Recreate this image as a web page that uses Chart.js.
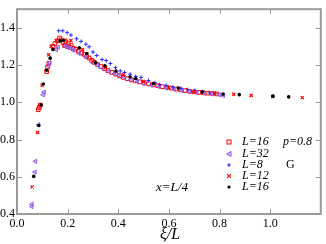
<!DOCTYPE html>
<html>
<head>
<meta charset="utf-8">
<script src="https://cdn.jsdelivr.net/npm/chart.js@4"></script>
<style>
  html, body { margin: 0; padding: 0; background: #fff; }
  #wrap { width: 326px; height: 244px; }
</style>
</head>
<body>
<div id="wrap"><canvas id="scaling" width="326" height="244"></canvas></div>
<script>
// L=16 open squares (red)
const sqX = [0.084, 0.088, 0.092, 0.117, 0.121, 0.126, 0.142, 0.150, 0.160, 0.168, 0.175, 0.182, 0.188, 0.193, 0.198, 0.203, 0.208, 0.214, 0.222, 0.232, 0.242, 0.255, 0.265, 0.275, 0.285, 0.295, 0.305, 0.318, 0.332, 0.346, 0.360, 0.375, 0.390, 0.405, 0.420, 0.436, 0.452, 0.468, 0.485, 0.502, 0.520, 0.538, 0.556, 0.574, 0.592, 0.610, 0.628, 0.646, 0.664, 0.682, 0.700, 0.718, 0.736, 0.754, 0.772, 0.790];
const sqY = [0.960, 0.972, 0.985, 1.165, 1.190, 1.210, 1.300, 1.315, 1.330, 1.345, 1.335, 1.320, 1.305, 1.325, 1.300, 1.315, 1.295, 1.305, 1.290, 1.285, 1.275, 1.265, 1.258, 1.245, 1.238, 1.225, 1.215, 1.203, 1.192, 1.180, 1.170, 1.160, 1.151, 1.142, 1.134, 1.127, 1.120, 1.115, 1.110, 1.104, 1.099, 1.094, 1.089, 1.084, 1.080, 1.076, 1.071, 1.067, 1.063, 1.059, 1.056, 1.053, 1.051, 1.049, 1.047, 1.045];

// L=32 triangles (violet)
const triX = [0.058, 0.059, 0.071, 0.073, 0.085, 0.103, 0.107, 0.125, 0.129, 0.155, 0.162, 0.190, 0.200, 0.213, 0.222, 0.245, 0.270, 0.300, 0.318, 0.340, 0.362, 0.385, 0.402, 0.425, 0.450, 0.475, 0.500, 0.530, 0.560, 0.590, 0.620, 0.650, 0.680, 0.710, 0.740, 0.770, 0.800, 0.815];
const triY = [0.440, 0.452, 0.625, 0.683, 0.880, 1.040, 1.055, 1.195, 1.212, 1.282, 1.296, 1.303, 1.295, 1.290, 1.280, 1.262, 1.245, 1.212, 1.198, 1.182, 1.166, 1.154, 1.146, 1.134, 1.121, 1.111, 1.101, 1.092, 1.084, 1.077, 1.070, 1.064, 1.058, 1.053, 1.048, 1.044, 1.040, 1.036];

// L=8 plus (blue)
const plusX = [0.165, 0.181, 0.198, 0.213, 0.235, 0.253, 0.272, 0.285, 0.300, 0.315, 0.336, 0.352, 0.369, 0.389, 0.408, 0.425, 0.447, 0.469, 0.490, 0.519, 0.545, 0.564, 0.589, 0.616, 0.647, 0.674, 0.702, 0.733, 0.760, 0.784];
const plusY = [1.384, 1.384, 1.374, 1.361, 1.341, 1.327, 1.312, 1.298, 1.270, 1.251, 1.229, 1.224, 1.208, 1.186, 1.168, 1.160, 1.151, 1.139, 1.134, 1.117, 1.105, 1.095, 1.091, 1.081, 1.075, 1.068, 1.063, 1.057, 1.050, 1.047];

// L=12 crosses (red)
const crossX = [0.060, 0.081, 0.099, 0.125, 0.135, 0.155, 0.190, 0.213, 0.259, 0.300, 0.350, 0.420, 0.500, 0.600, 0.700, 0.780, 0.856, 0.925, 1.010, 1.127];
const crossY = [0.545, 0.838, 1.091, 1.255, 1.301, 1.332, 1.335, 1.332, 1.284, 1.222, 1.188, 1.148, 1.112, 1.080, 1.058, 1.048, 1.043, 1.037, 1.031, 1.025];

// L=16 filled circles (black)
const dotX = [0.066, 0.086, 0.095, 0.104, 0.117, 0.131, 0.142, 0.170, 0.183, 0.246, 0.276, 0.311, 0.347, 0.391, 0.447, 0.469, 0.539, 0.637, 0.732, 0.814, 0.878, 1.011, 1.073];
const dotY = [0.602, 0.875, 0.986, 1.098, 1.172, 1.237, 1.284, 1.330, 1.332, 1.293, 1.262, 1.212, 1.196, 1.168, 1.137, 1.128, 1.101, 1.077, 1.056, 1.044, 1.041, 1.033, 1.029];

const xTicks = [0, 0.2, 0.4, 0.6, 0.8, 1.0];
const yTicks = [0.4, 0.6, 0.8, 1.0, 1.2, 1.4];

const legendRows = [
  { label: 'L=16', kind: 'square' },
  { label: 'L=32', kind: 'triangle' },
  { label: 'L=8', kind: 'plus' },
  { label: 'L=12', kind: 'cross' },
  { label: 'L=16', kind: 'dot' }
];

const SERIF = '"Liberation Serif", "DejaVu Serif", serif';
const RED = '#ff0000';
const VIOLET = '#9359e0';
const BLUE = '#2b2bff';

function pts(xs, ys) {
  return xs.map((x, i) => ({ x: x, y: ys[i] }));
}

// draw one legend symbol by hand
function drawSymbol(ctx, kind, x, y) {
  ctx.save();
  ctx.lineWidth = 1;
  if (kind === 'square') {
    ctx.strokeStyle = RED;
    ctx.strokeRect(x - 2, y - 2, 4, 4);
  } else if (kind === 'triangle') {
    ctx.strokeStyle = VIOLET;
    ctx.fillStyle = 'rgba(160,120,235,0.45)';
    ctx.beginPath();
    ctx.moveTo(x - 2.5, y);
    ctx.lineTo(x + 2, y - 2.5);
    ctx.lineTo(x + 2, y + 2.5);
    ctx.closePath();
    ctx.fill();
    ctx.stroke();
  } else if (kind === 'plus') {
    ctx.strokeStyle = BLUE;
    ctx.beginPath();
    ctx.moveTo(x - 2, y); ctx.lineTo(x + 2, y);
    ctx.moveTo(x, y - 2); ctx.lineTo(x, y + 2);
    ctx.stroke();
  } else if (kind === 'cross') {
    ctx.strokeStyle = RED;
    ctx.lineWidth = 1.2;
    ctx.beginPath();
    ctx.moveTo(x - 1.8, y - 1.8); ctx.lineTo(x + 1.8, y + 1.8);
    ctx.moveTo(x + 1.8, y - 1.8); ctx.lineTo(x - 1.8, y + 1.8);
    ctx.stroke();
  } else {
    ctx.fillStyle = '#000';
    ctx.beginPath();
    ctx.arc(x, y, 1.6, 0, Math.PI * 2);
    ctx.fill();
  }
  ctx.restore();
}

// frame, inward ticks on all four sides, legend and annotations
const framePlugin = {
  id: 'frame',
  afterDraw(chart) {
    const ctx = chart.ctx;
    const a = chart.chartArea;
    const sx = chart.scales.x, sy = chart.scales.y;
    ctx.save();
    ctx.strokeStyle = '#9a9a9a';
    ctx.lineWidth = 2;
    ctx.strokeRect(a.left, a.top, a.right - a.left, a.bottom - a.top);
    ctx.lineWidth = 1;
    ctx.beginPath();
    xTicks.forEach(v => {
      const px = Math.round(sx.getPixelForValue(v)) + 0.5;
      ctx.moveTo(px, a.bottom); ctx.lineTo(px, a.bottom - 5);
      ctx.moveTo(px, a.top); ctx.lineTo(px, a.top + 5);
    });
    yTicks.forEach(v => {
      const py = Math.round(sy.getPixelForValue(v)) + 0.5;
      ctx.moveTo(a.left, py); ctx.lineTo(a.left + 5, py);
      ctx.moveTo(a.right, py); ctx.lineTo(a.right - 5, py);
    });
    ctx.stroke();

    // legend
    ctx.fillStyle = '#000';
    ctx.textBaseline = 'middle';
    ctx.font = 'italic 12px ' + SERIF;
    const ly = [142, 154, 165, 176, 187];
    legendRows.forEach((r, i) => {
      drawSymbol(ctx, r.kind, 229, ly[i]);
      ctx.fillText(r.label, 242, ly[i]);
    });
    ctx.fillText('p=0.8', 283, 142);
    ctx.font = '12px ' + SERIF;
    ctx.fillText('G', 286, 165);

    ctx.font = 'italic 13px ' + SERIF;
    ctx.fillText('x=L/4', 156, 188);

    ctx.font = 'italic 16px ' + SERIF;
    ctx.textAlign = 'center';
    ctx.fillText('\u03BE/L', 170, 235);
    ctx.restore();
  }
};

const ctx = document.getElementById('scaling').getContext('2d');
new Chart(ctx, {
  type: 'scatter',
  data: {
    datasets: [
      { data: pts(dotX, dotY), pointStyle: 'circle', radius: 1.8, backgroundColor: '#000', borderColor: '#000', borderWidth: 0 },
      { data: pts(crossX, crossY), pointStyle: 'crossRot', radius: 2.2, borderColor: RED, borderWidth: 1.2 },
      { data: pts(plusX, plusY), pointStyle: 'cross', radius: 2, borderColor: BLUE, borderWidth: 1 },
      { data: pts(triX, triY), pointStyle: 'triangle', rotation: 270, radius: 2.4, borderColor: VIOLET, backgroundColor: 'rgba(160,120,235,0.45)', borderWidth: 1 },
      { data: pts(sqX, sqY), pointStyle: 'rect', radius: 2.6, borderColor: RED, backgroundColor: 'rgba(255,255,255,0)', borderWidth: 1 }
    ]
  },
  options: {
    responsive: false,
    animation: false,
    devicePixelRatio: 1,
    layout: { padding: { top: 1, right: 1, left: 0, bottom: 0 } },
    plugins: { legend: { display: false }, tooltip: { enabled: false } },
    scales: {
      x: {
        type: 'linear',
        min: 0,
        max: 1.2,
        afterFit: s => { s.height = 30; },
        grid: { display: false, drawTicks: false },
        border: { display: false },
        ticks: {
          stepSize: 0.2,
          padding: 3,
          color: '#000',
          font: { family: SERIF, size: 12 },
          callback: v => (v > 1.05 ? '' : v.toFixed(1))
        }
      },
      y: {
        type: 'linear',
        min: 0.4,
        max: 1.5,
        afterFit: s => { s.width = 17; },
        grid: { display: false, drawTicks: false },
        border: { display: false },
        ticks: {
          stepSize: 0.2,
          includeBounds: false,
          padding: 2,
          color: '#000',
          font: { family: SERIF, size: 12 },
          callback: v => v.toFixed(1)
        }
      }
    }
  },
  plugins: [framePlugin]
});
</script>
</body>
</html>
